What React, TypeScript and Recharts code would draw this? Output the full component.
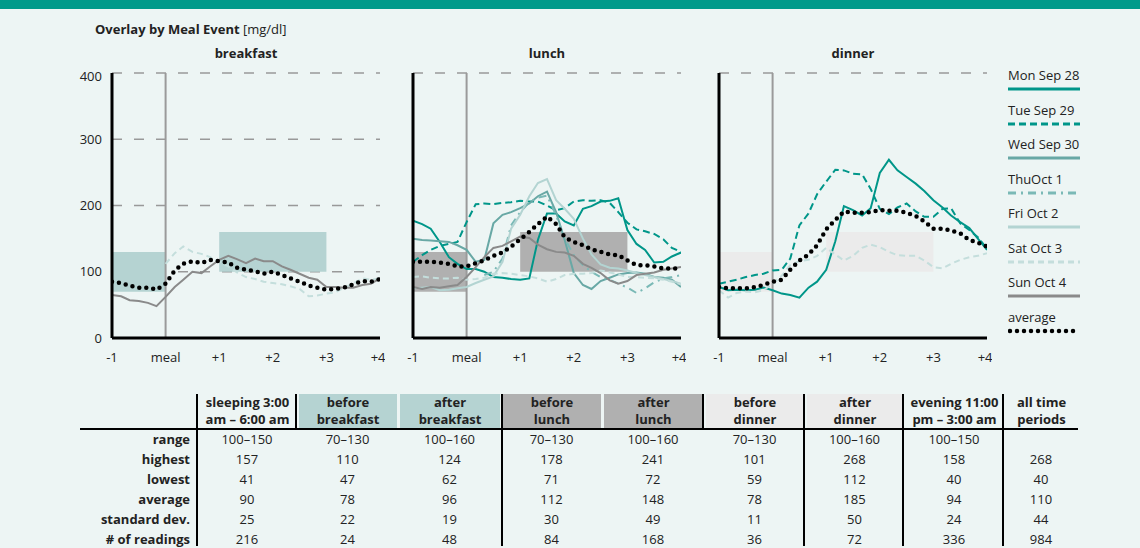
import React from "react";
import { LineChart, Line, XAxis, YAxis, CartesianGrid, ReferenceArea, ReferenceLine } from "recharts";

const FONT = "'Open Sans', 'Noto Sans', sans-serif";

// hours relative to the meal, 10 minute steps
const HOURS = [
  -1, -0.83, -0.67, -0.5, -0.33, -0.17, 0, 0.17, 0.33, 0.5, 0.67, 0.83, 1, 1.17, 1.33, 1.5,
  1.67, 1.83, 2, 2.17, 2.33, 2.5, 2.67, 2.83, 3, 3.17, 3.33, 3.5, 3.67, 3.83, 4,
];

// breakfast
const BF_SAT = [null, null, null, null, null, null, 112, 128, 138, 130, 127, 122, 115, 108, 99, 92, 89, 85, 83, 81, 78, 74, 63, 64, 67, 69, 76, 82, 90, 88, 90];
const BF_SUN = [65, 63, 57, 56, 53, 48, 62, 77, 88, 100, 98, 108, 118, 124, 119, 113, 120, 116, 116, 108, 103, 97, 91, 88, 77, 77, 76, 76, 80, 82, 90];
const BF_AVG = [85, 83, 79, 76, 76, 73, 82, 102, 112, 116, 113, 118, 116, 114, 106, 103, 101, 97, 100, 95, 90, 85, 79, 76, 73, 74, 76, 81, 86, 85, 89];

// lunch
const LU_MON = [177, 172, 165, 145, 122, 112, 104, 104, 100, 92, 91, 89, 88, 90, 148, 188, 188, 176, 170, 195, 199, 206, 207, 211, 163, 142, 133, 114, 115, 123, 129];
const LU_TUE = [115, 125, 133, 139, 142, 145, 175, 202, 203, 202, 204, 205, 207, 206, 206, 200, 193, 196, 206, 208, 207, 208, 204, 190, 174, 164, 161, 157, 149, 136, 130];
const LU_WED = [150, 148, 147, 146, 145, 140, 133, 115, 118, 173, 186, 190, 196, 203, 214, 221, 190, 148, 98, 80, 74, 86, 91, 96, 98, 99, 97, 92, 91, 88, 77];
const LU_THU = [null, null, null, null, null, null, null, null, 95, 100, 120, 170, 190, 205, 212, 215, 185, 150, 125, 110, 100, 92, 88, 82, 76, 68, 75, 84, 90, 92, 95];
const LU_FRI = [75, 76, 77, 72, 73, 75, 77, 83, 88, 93, 115, 165, 186, 214, 234, 240, 208, 195, 180, 150, 126, 111, 106, 105, 102, 98, 95, 92, 89, 86, 82];
const LU_SAT = [92, 93, 91, 90, 90, 91, 88, 89, 91, 97, 98, 97, 95, 93, 90, 85, 89, 95, 97, 97, 98, 102, 99, 96, 92, 92, 91, 90, 88, 85, 81];
const LU_SUN = [77, 74, 77, 76, 78, 80, 92, 107, 122, 136, 139, 146, 153, 151, 141, 134, 130, 129, 124, 112, 106, 98, 87, 82, 86, 95, 97, 99, 103, 105, 107];
const LU_AVG = [115, 115, 115, 114, 112, 108, 108, 113, 117, 124, 129, 138, 149, 160, 172, 183, 172, 152, 145, 140, 134, 130, 126, 125, 117, 110, 110, 108, 105, 105, 105];

// dinner
const DN_MON = [77, 72, 73, 72, 73, 76, 72, 67, 65, 61, 76, 85, 103, 146, 199, 193, 185, 196, 249, 269, 253, 243, 233, 222, 208, 197, 185, 175, 166, 150, 133];
const DN_TUE = [82, 85, 88, 92, 95, 97, 102, 103, 120, 170, 188, 217, 236, 254, 253, 248, 247, 225, 195, 187, 197, 203, 191, 183, 183, 195, 196, 173, 163, 152, 135];
const DN_SAT = [72, 61, 68, 70, 69, 72, 82, 94, 110, 116, 118, 124, 136, 126, 117, 124, 136, 141, 137, 130, 125, 124, 124, 117, 107, 105, 112, 118, 122, 124, 128];
const DN_AVG = [77, 75, 75, 75, 77, 80, 85, 88, 103, 117, 126, 140, 164, 178, 191, 189, 189, 190, 193, 192, 192, 189, 184, 176, 165, 165, 162, 158, 148, 144, 138];

const X_TICKS = [-1, 0, 1, 2, 3, 4];
const Y_TICKS = [0, 100, 200, 300, 400];

// table
const COLUMNS = [
  ["sleeping 3:00", "am – 6:00 am"],
  ["before", "breakfast"],
  ["after", "breakfast"],
  ["before", "lunch"],
  ["after", "lunch"],
  ["before", "dinner"],
  ["after", "dinner"],
  ["evening 11:00", "pm – 3:00 am"],
  ["all time", "periods"],
];
const ROW_LABELS = ["range", "highest", "lowest", "average", "standard dev.", "# of readings"];
const RANGE = ["100–150", "70–130", "100–160", "70–130", "100–160", "70–130", "100–160", "100–150", ""];
const HIGHEST = [157, 110, 124, 178, 241, 101, 268, 158, 268];
const LOWEST = [41, 47, 62, 71, 72, 59, 112, 40, 40];
const AVERAGE = [90, 78, 96, 112, 148, 78, 185, 94, 110];
const STD_DEV = [25, 22, 19, 30, 49, 11, 50, 24, 44];
const READINGS = [216, 24, 48, 84, 168, 36, 72, 336, 984];

type Series = { key: string; name: string; color: string; width: number; dash?: string };

const SERIES: Series[] = [
  { key: "mon", name: "Mon Sep 28", color: "#009689", width: 2 },
  { key: "tue", name: "Tue Sep 29", color: "#009689", width: 2, dash: "7 4" },
  { key: "wed", name: "Wed Sep 30", color: "#68a8a5", width: 2 },
  { key: "thu", name: "ThuOct 1", color: "#7ab9b6", width: 2, dash: "8 5 2 5" },
  { key: "fri", name: "Fri Oct 2", color: "#b3d4d2", width: 2 },
  { key: "sat", name: "Sat Oct 3", color: "#c4dedc", width: 2, dash: "6 4" },
  { key: "sun", name: "Sun Oct 4", color: "#8a8a8a", width: 2 },
];

function buildRows(cols: Record<string, (number | null)[]>) {
  return HOURS.map((h, i) => {
    const row: Record<string, number | null> = { h };
    Object.keys(cols).forEach((k) => (row[k] = cols[k][i]));
    return row;
  });
}

const BREAKFAST = buildRows({ sat: BF_SAT, sun: BF_SUN, avg: BF_AVG });
const LUNCH = buildRows({ mon: LU_MON, tue: LU_TUE, wed: LU_WED, thu: LU_THU, fri: LU_FRI, sat: LU_SAT, sun: LU_SUN, avg: LU_AVG });
const DINNER = buildRows({ mon: DN_MON, tue: DN_TUE, sat: DN_SAT, avg: DN_AVG });

const fmtHour = (v: number) => (v === 0 ? "meal" : v > 0 ? `+${v}` : `${v}`);

function MealPanel({ title, data, keys, band, plotLeft, showY }: {
  title: string; data: any[]; keys: string[]; band: string; plotLeft: number; showY: boolean;
}) {
  const tick = { fill: "#222", fontSize: 13, fontFamily: FONT };
  return (
    <>
      <div style={{ position: "absolute", left: plotLeft, width: 268, top: 44, textAlign: "center", fontWeight: 700, fontSize: 13, color: "#222" }}>
        {title}
      </div>
      <div style={{ position: "absolute", left: plotLeft - 40, top: 68 }}>
        <LineChart width={313} height={300} data={data} margin={{ top: 5, right: 5, left: 0, bottom: 0 }}>
          <ReferenceArea x1={-1} x2={0} y1={70} y2={130} fill={band} fillOpacity={1} stroke="none" />
          <ReferenceArea x1={1} x2={3} y1={100} y2={160} fill={band} fillOpacity={1} stroke="none" />
          <CartesianGrid vertical={false} stroke="#999" strokeWidth={1.5} strokeDasharray="10 12" />
          <XAxis type="number" dataKey="h" domain={[-1, 4]} ticks={X_TICKS} tickFormatter={fmtHour}
            axisLine={{ stroke: "#000", strokeWidth: 3 }} tickLine={false} tick={tick} tickMargin={9} height={30} allowDataOverflow />
          <YAxis type="number" domain={[0, 400]} ticks={Y_TICKS} width={40}
            axisLine={{ stroke: "#000", strokeWidth: 3 }} tickLine={false} tick={showY ? tick : false} tickMargin={4} />
          <ReferenceLine x={0} stroke="#9a9a9a" strokeWidth={2} />
          {SERIES.filter((s) => keys.includes(s.key)).map((s) => (
            <Line key={s.key} dataKey={s.key} type="linear" stroke={s.color} strokeWidth={s.width}
              strokeDasharray={s.dash} dot={false} activeDot={false} isAnimationActive={false} />
          ))}
          <Line dataKey="avg" type="linear" stroke="#000" strokeWidth={4.5} strokeDasharray="0 7"
            strokeLinecap="round" dot={false} activeDot={false} isAnimationActive={false} />
        </LineChart>
      </div>
    </>
  );
}

function LegendBox() {
  const items = [...SERIES, { key: "avg", name: "average", color: "#000", width: 4.5, dash: "0 7" }];
  return (
    <div style={{ position: "absolute", left: 1008, top: 66 }}>
      {items.map((s) => (
        <div key={s.key} style={{ height: 34.5, position: "relative" }}>
          <div style={{ fontSize: 13, color: "#222", lineHeight: "18px" }}>{s.name}</div>
          <svg width={76} height={8} style={{ position: "absolute", left: 0, top: 19 }}>
            <line x1={s.key === "avg" ? 2 : 0} x2={72} y1={4} y2={4} stroke={s.color}
              strokeWidth={s.key === "avg" ? 4.5 : 3} strokeDasharray={s.dash} strokeLinecap={s.key === "avg" ? "round" : "butt"} />
          </svg>
        </div>
      ))}
    </div>
  );
}

function StatsTable() {
  const edges = [197, 297, 398, 501, 602, 704, 805, 904, 1004, 1078];
  const headBg = ["none", "#b5d3d2", "#b5d3d2", "#b0b0b0", "#b0b0b0", "#ebebeb", "#ebebeb", "none", "none"];
  const rows = [RANGE, HIGHEST, LOWEST, AVERAGE, STD_DEV, READINGS];
  const fullLines = [197, 502, 804, 903, 1003];
  const headLines = [296, 703];
  return (
    <div style={{ position: "absolute", left: 0, top: 0, fontSize: 13, color: "#222" }}>
      {COLUMNS.map((c, i) => (
        <div key={i} style={{
          position: "absolute", left: edges[i] + 2, width: edges[i + 1] - edges[i] - 3, top: 394, height: 34,
          background: headBg[i], textAlign: "center", fontWeight: 700, lineHeight: "17px",
        }}>
          {c[0]}<br />{c[1]}
        </div>
      ))}
      <div style={{ position: "absolute", left: 80, width: 998, top: 428, height: 2, background: "#000" }} />
      {fullLines.map((x) => (
        <div key={x} style={{ position: "absolute", left: x - 1, width: 2, top: 394, height: 152, background: "#000" }} />
      ))}
      {headLines.map((x) => (
        <div key={x} style={{ position: "absolute", left: x - 1, width: 2, top: 394, height: 35, background: "#000" }} />
      ))}
      {ROW_LABELS.map((label, r) => (
        <React.Fragment key={label}>
          <div style={{ position: "absolute", left: 60, width: 130, top: 429 + r * 20, lineHeight: "20px", textAlign: "right", fontWeight: 700 }}>
            {label}
          </div>
          {rows[r].map((v, i) => (
            <div key={i} style={{ position: "absolute", left: edges[i], width: edges[i + 1] - edges[i], top: 429 + r * 20, lineHeight: "20px", textAlign: "center" }}>
              {v}
            </div>
          ))}
        </React.Fragment>
      ))}
    </div>
  );
}

export default function App() {
  return (
    <div style={{ position: "absolute", left: 0, top: 0, width: 1140, height: 548, background: "#edf5f4", fontFamily: FONT, overflow: "hidden" }}>
      <div style={{ position: "absolute", left: 0, top: 0, width: 1140, height: 9, background: "#009a8a" }} />
      <div style={{ position: "absolute", left: 95, top: 20, fontSize: 13, color: "#222" }}>
        <b>Overlay by Meal Event</b> [mg/dl]
      </div>
      <MealPanel title="breakfast" data={BREAKFAST} keys={["sat", "sun"]} band="#b5d3d2" plotLeft={112} showY />
      <MealPanel title="lunch" data={LUNCH} keys={["mon", "tue", "wed", "thu", "fri", "sat", "sun"]} band="#b0b0b0" plotLeft={413} showY={false} />
      <MealPanel title="dinner" data={DINNER} keys={["mon", "tue", "sat"]} band="#ebebeb" plotLeft={719} showY={false} />
      <LegendBox />
      <StatsTable />
    </div>
  );
}
